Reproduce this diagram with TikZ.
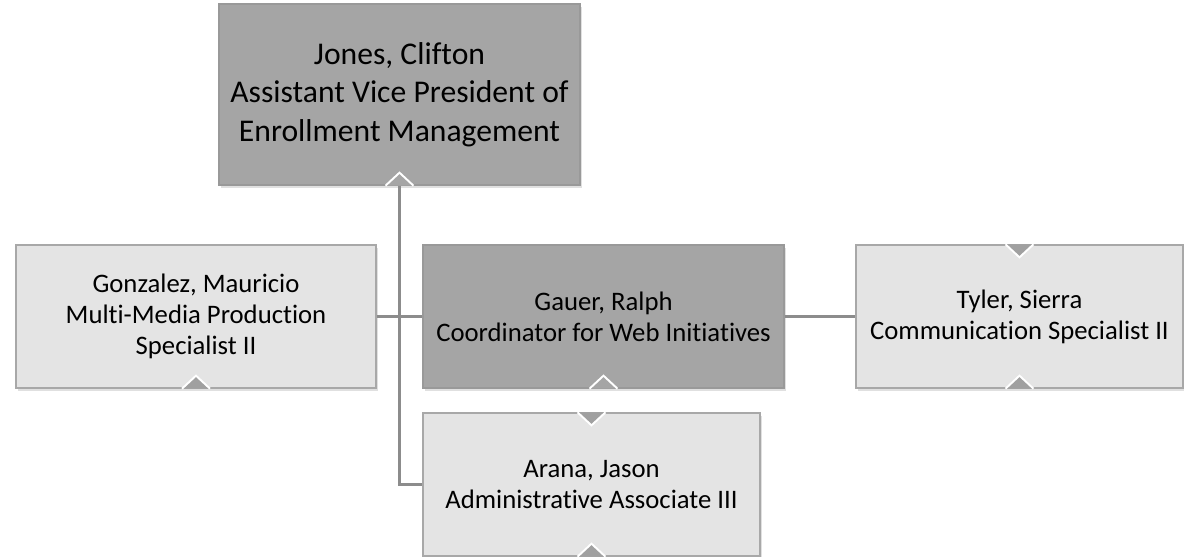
\documentclass[tikz,border=0pt]{standalone}
\usepackage{fontspec}
\setmainfont{Carlito}[Ligatures=NoCommon]
\usetikzlibrary{shapes,positioning,calc,shadows}

\definecolor{darkfill}{HTML}{A5A5A5}
\definecolor{darkline}{HTML}{999999}
\definecolor{lightfill}{HTML}{E4E4E4}
\definecolor{lightline}{HTML}{A8A8A8}
\definecolor{linkgray}{HTML}{8C8C8C}
\definecolor{markgray}{HTML}{A0A0A0}

\begin{document}
\begin{tikzpicture}[x=0.02cm, y=-0.02cm,
    person/.style={rectangle, draw, line width=0.8pt, align=center, inner sep=0pt,
        minimum height=2.86cm,
        drop shadow={shadow xshift=1.2pt, shadow yshift=-1.5pt, fill=black, opacity=0.12},
        font=\fontsize{15.2}{17.6}\selectfont},
    head/.style={person, fill=darkfill, draw=darkline},
    staff/.style={person, fill=lightfill, draw=lightline},
    link/.style={draw=linkgray, line width=1.7pt},
    upmark/.style={draw=white, line width=1.1pt, line join=miter},
]
    \useasboundingbox (0,0) rectangle (1184,557);

    % Boxes
    \node[head, minimum width=7.22cm, minimum height=3.62cm, font=\fontsize{18}{22}\selectfont] (jones) at (399.5,94.5)
        {Jones, Clifton\\Assistant Vice President of\\Enrollment Management};
    \node[staff, minimum width=7.2cm] (gonzalez) at (196,316.5)
        {Gonzalez, Mauricio\\Multi-Media Production\\Specialist II};
    \node[head, minimum width=7.22cm] (gauer) at (603.5,316.5)
        {Gauer, Ralph\\Coordinator for Web Initiatives};
    \node[staff, minimum width=6.54cm] (tyler) at (1019.5,316.5)
        {Tyler, Sierra\\Communication Specialist II};
    \node[staff, minimum width=6.74cm] (arana) at (591.5,484.5)
        {Arana, Jason\\Administrative Associate III};

    % Connectors
    \draw[link] (jones.south) |- (arana.west);
    \draw[link] (gonzalez.east) -- (gauer.west);
    \draw[link] (gauer.east) -- (tyler.west);

    % Markers
    \filldraw[upmark, fill=darkfill] ($(jones.south)+(-14,0)$) -- ++(14,-13) -- ++(14,13);
    \filldraw[upmark, fill=markgray] ($(gonzalez.south)+(-14,0)$) -- ++(14,-13) -- ++(14,13);
    \filldraw[upmark, fill=darkfill] ($(gauer.south)+(-14,0)$) -- ++(14,-13) -- ++(14,13);
    \filldraw[upmark, fill=markgray] ($(tyler.south)+(-14,0)$) -- ++(14,-13) -- ++(14,13);
    \filldraw[upmark, fill=markgray] ($(arana.south)+(-14,0)$) -- ++(14,-13) -- ++(14,13);
    \filldraw[upmark, fill=markgray] ($(tyler.north)+(-14,0)$) -- ++(14,13) -- ++(14,-13);
    \filldraw[upmark, fill=markgray] ($(arana.north)+(-14,0)$) -- ++(14,13) -- ++(14,-13);

\end{tikzpicture}
\end{document}
